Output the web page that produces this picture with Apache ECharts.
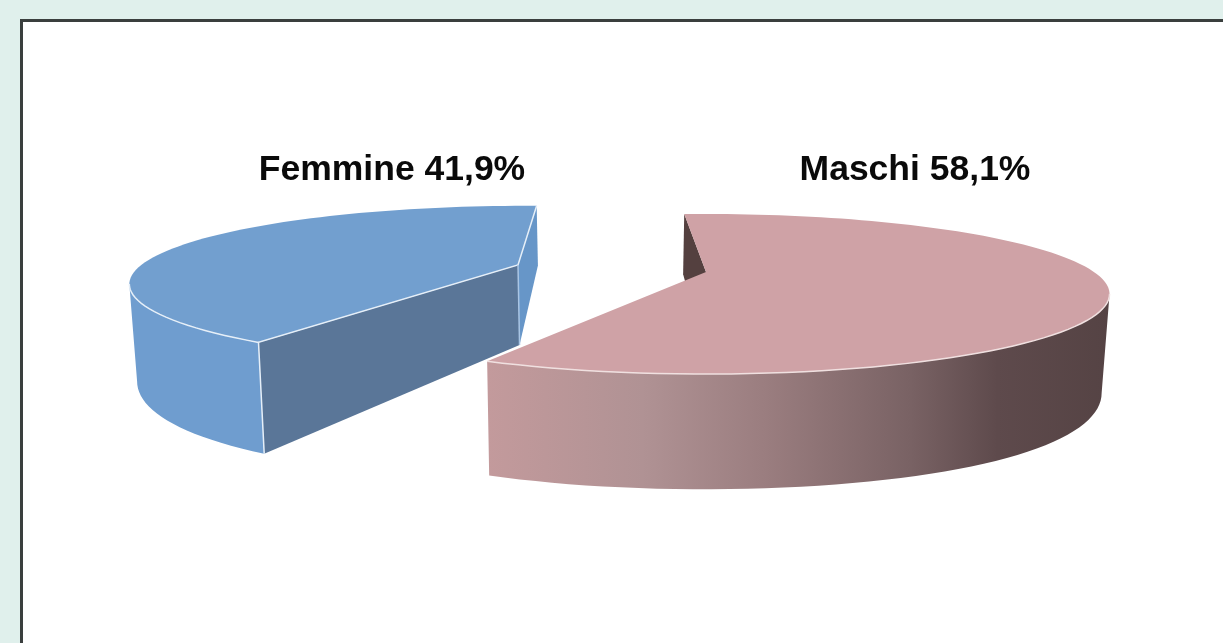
<!DOCTYPE html>
<html>
<head>
<meta charset="utf-8">
<title>Femmine / Maschi</title>
<script src="https://cdn.jsdelivr.net/npm/echarts@6/dist/echarts.min.js"></script>
<style>
  html, body { margin: 0; padding: 0; background: #e0f0ec; }
  #chart { width: 1223px; height: 643px; }
</style>
</head>
<body>
<div id="chart"></div>
<script>
// dati della torta
var categories = ['Femmine', 'Maschi'];
var values = [41.9, 58.1];

// ogni fetta ha la sua proiezione: apice, inizio in gradi (orario, 0 = in alto), prospettiva
var slices = [
  { apex: [518, 265], start: 212.6, p: 0.25, q: -0.03, label: [392, 170.5],
    top: '#729fcf', wall: '#6f9dcf', nearCut: '#5a7698', backCut: '#6796c8', line: '#e6eff8' },
  { apex: [706, 272], start: -4.1, p: 0.275, q: 0, label: [915, 170.5],
    top: '#cfa2a6', wall: null, nearCut: '#cfa2a6', backCut: '#54403f', line: '#f0e0e0' }
];
var RX = 388, RY = 74;

// parete della fetta rosa, da sinistra (chiaro) a destra (scuro)
var pinkWall = new echarts.graphic.LinearGradient(0, 0, 1, 0, [
  { offset: 0, color: '#c39a9c' },
  { offset: 0.25, color: '#b09294' },
  { offset: 0.45, color: '#9a7d7f' },
  { offset: 0.68, color: '#796264' },
  { offset: 0.82, color: '#5e4a4c' },
  { offset: 1, color: '#554344' }
]);

function rim(cfg, deg) {
  var r = deg * Math.PI / 180;
  var u = Math.sin(r), v = Math.cos(r);
  var w = 1 + cfg.p * v + cfg.q * u;
  return [cfg.apex[0] + RX * u / w, cfg.apex[1] - RY * v / w];
}

// punto corrispondente sulla faccia inferiore
function drop(cfg, pt) {
  var X = pt[0] - cfg.apex[0], Y = cfg.apex[1] - pt[1];
  var d = 80 - 0.345 * Y + 7e-5 * X * X;
  return [pt[0] + (615 - pt[0]) * 0.016, pt[1] + d];
}

function arc(cfg, from, to) {
  var pts = [];
  var n = Math.max(2, Math.ceil(Math.abs(to - from) / 2));
  for (var i = 0; i <= n; i++) {
    pts.push(rim(cfg, from + (to - from) * i / n));
  }
  return pts;
}

// angolo del bordo estremo a sinistra o a destra: la parete si vede da li in poi
function sideAngle(cfg, from, to) {
  var best = from, bestDist = -1;
  for (var a = from; a <= to; a += 0.5) {
    var dist = Math.abs(rim(cfg, a)[0] - cfg.apex[0]);
    if (dist > bestDist) {
      bestDist = dist;
      best = a;
    }
  }
  return best;
}

function poly(points, fill, z) {
  return { type: 'polygon', z2: z, shape: { points: points }, style: { fill: fill } };
}

function stroke(points, color, z) {
  return { type: 'polyline', z2: z, shape: { points: points }, style: { fill: null, stroke: color, lineWidth: 1.5 } };
}

function renderSlice(params, api) {
  var i = params.dataIndex;
  var cfg = slices[i];
  var total = values.reduce(function (a, b) { return a + b; }, 0);
  var value = api.value(0);
  var from = cfg.start;
  var to = from + value / total * 360;
  var apex = cfg.apex;
  var apexLow = drop(cfg, apex);
  var first = rim(cfg, from), last = rim(cfg, to);
  var near = i === 0 ? first : last;   // bordo verso chi guarda
  var far = i === 0 ? last : first;    // bordo verso il fondo
  var side = sideAngle(cfg, from, to);
  var wallTop = i === 0 ? arc(cfg, from, side) : arc(cfg, side, to);
  var wallLow = wallTop.map(function (p) { return drop(cfg, p); }).reverse();
  var children = [];

  children.push(poly([far, apex, apexLow, drop(cfg, far)], cfg.backCut, 1));
  if (i === 0) {
    children.push(poly([near, apex, apexLow, drop(cfg, near)], cfg.nearCut, 2));
  }
  children.push(poly(wallTop.concat(wallLow), cfg.wall || pinkWall, 3));
  children.push(poly([apex].concat(arc(cfg, from, to)), cfg.top, 4));
  children.push(stroke(wallTop, cfg.line, 5));
  if (i === 0) {
    children.push(stroke([far, apex, near, drop(cfg, near)], cfg.line, 5));
    children.push(stroke([apex, apexLow], '#a9c5e4', 5));
  }
  children.push({
    type: 'text',
    z2: 6,
    style: {
      x: cfg.label[0],
      y: cfg.label[1],
      text: categories[i] + ' ' + String(value).replace('.', ',') + '%',
      fill: '#0a0a0a',
      font: 'bold 35.5px "Liberation Sans", Arial, sans-serif',
      align: 'center',
      verticalAlign: 'middle'
    }
  });
  return { type: 'group', children: children };
}

var chart = echarts.init(document.getElementById('chart'), null, { renderer: 'canvas' });
chart.setOption({
  animation: false,
  backgroundColor: '#e0f0ec',
  graphic: [{
    type: 'rect',
    z: -1,
    shape: { x: 21.5, y: 20.5, width: 1300, height: 700 },
    style: { fill: '#ffffff', stroke: '#3a3f3e', lineWidth: 3 }
  }],
  series: [{
    type: 'custom',
    coordinateSystem: 'none',
    renderItem: renderSlice,
    data: values.map(function (v, i) { return { name: categories[i], value: [v] }; })
  }]
});
</script>
</body>
</html>
